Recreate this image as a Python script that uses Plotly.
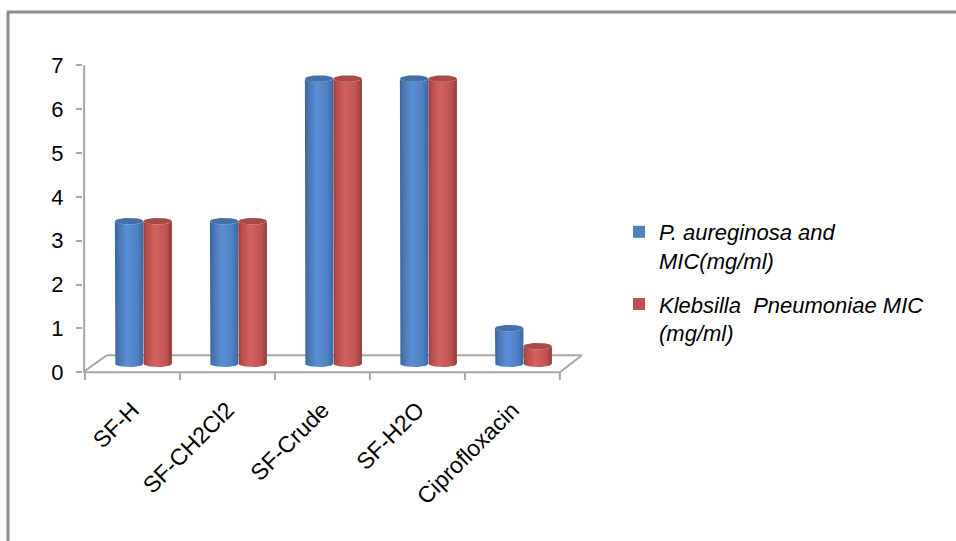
import numpy as np
import plotly.graph_objects as go

# ---------------- data ----------------
categories = ["SF-H", "SF-CH2Cl2", "SF-Crude", "SF-H2O", "Ciprofloxacin"]
series_names = ["<i>P. aureginosa and<br>MIC(mg/ml)</i>",
                "<i>Klebsilla  Pneumoniae MIC<br>(mg/ml)</i>"]
p_aeruginosa = [3.25, 3.25, 6.5, 6.5, 0.81]
k_pneumoniae = [3.25, 3.25, 6.5, 6.5, 0.40]
y_ticks = [0, 1, 2, 3, 4, 5, 6, 7]

# ---------------- geometry / style ----------------
W, H = 956, 541
ML, MR, MT, MB = 83, 372, 64, 160
PW, PH = W - ML - MR, H - MT - MB
PXU = 95.0        # px per category unit
PYU = 43.857      # px per value unit
x0r = -0.52
xr = [x0r, x0r + PW / PXU]
y0r = -0.2
yr = [y0r, y0r + PH / PYU]

depth_x = 22 / PXU      # full floor depth (x)
depth_y = 17 / PYU      # full floor depth (y)
mid_x, mid_y = depth_x / 2, depth_y / 2
half_w = 0.15
ell_k = 3.3 / PYU

grey = "#a6a6a6"
FONT = "Liberation Sans, Arial, sans-serif"

body_scales = [
    [[0, "#3a6196"], [0.12, "#4775b3"], [0.42, "#5b8fd6"], [0.8, "#4e7fc2"], [1, "#3b669e"]],
    [[0, "#963c3a"], [0.12, "#b84d4a"], [0.42, "#d3625f"], [0.8, "#c0524f"], [1, "#8f3a38"]],
]
top_colors = ["#4470a7", "#a94946"]
legend_colors = ["#4f81bd", "#c0504d"]

fig = go.Figure()

n = len(categories)
bounds = [i - 0.5 for i in range(n + 1)]
line_style = dict(color=grey, width=2)
shapes = []
shapes.append(dict(type="line", xref="x", yref="y", x0=bounds[0], y0=0, x1=bounds[-1], y1=0,
                   line=line_style, layer="below"))
shapes.append(dict(type="line", xref="x", yref="y", x0=bounds[0] + depth_x, y0=depth_y,
                   x1=bounds[-1] + depth_x, y1=depth_y, line=line_style, layer="below"))
shapes.append(dict(type="line", xref="x", yref="y", x0=bounds[0] - 0.02, y0=0,
                   x1=bounds[0] + depth_x, y1=depth_y, line=line_style, layer="below"))
shapes.append(dict(type="line", xref="x", yref="y", x0=bounds[-1], y0=0,
                   x1=bounds[-1] + depth_x, y1=depth_y, line=line_style, layer="below"))
for b in bounds:
    shapes.append(dict(type="line", xref="x", yref="y", x0=b, y0=0, x1=b, y1=-0.18,
                       line=line_style, layer="below"))
# y axis line
shapes.append(dict(type="line", xref="x", yref="y", x0=xr[0] + 0.012, y0=0,
                   x1=xr[0] + 0.012, y1=y_ticks[-1], line=line_style, layer="below"))


def px2paper_x(px):
    return (px - ML) / PW


def px2paper_y(py):
    return (H - MB - py) / PH


# outer frame (top and left edges)
shapes.append(dict(type="line", xref="paper", yref="paper",
                   x0=px2paper_x(7), y0=px2paper_y(12), x1=px2paper_x(960), y1=px2paper_y(12),
                   line=dict(color="#8c8c8c", width=3)))
shapes.append(dict(type="line", xref="paper", yref="paper",
                   x0=px2paper_x(8), y0=px2paper_y(12), x1=px2paper_x(8), y1=px2paper_y(545),
                   line=dict(color="#8c8c8c", width=3)))

# cylinders
t_half = np.linspace(0, np.pi, 25)
t_full = np.linspace(0, 2 * np.pi, 49)
series = [p_aeruginosa, k_pneumoniae]
for i in range(n):
    for s, vals in enumerate(series):
        v = vals[i]
        cx = i + mid_x + (s - 0.5) * 2 * half_w
        base = mid_y
        top = v + mid_y
        xs = ([cx - half_w, cx - half_w]
              + list(cx - half_w * np.cos(t_half))
              + [cx + half_w]
              + list(cx + half_w * np.cos(t_half)))
        ys = ([top, base]
              + list(base - ell_k * np.sin(t_half))
              + [top]
              + list(top - ell_k * np.sin(t_half)))
        fig.add_trace(go.Scatter(
            x=xs, y=ys, mode="lines", fill="toself", line=dict(width=0),
            fillgradient=dict(type="horizontal", colorscale=body_scales[s]),
            hoverinfo="skip", showlegend=False))
        fig.add_trace(go.Scatter(
            x=cx + half_w * np.cos(t_full), y=top + ell_k * np.sin(t_full),
            mode="lines", fill="toself", line=dict(width=0), fillcolor=top_colors[s],
            hoverinfo="skip", showlegend=False))

# legend entries
for s in range(2):
    fig.add_trace(go.Scatter(
        x=[None], y=[None], mode="markers", name=series_names[s],
        legendgroup="g%d" % s,
        marker=dict(symbol="square", size=12, color=legend_colors[s])))

fig.update_layout(
    width=W, height=H, autosize=False,
    margin=dict(l=ML, r=MR, t=MT, b=MB),
    paper_bgcolor="white", plot_bgcolor="white",
    font=dict(family=FONT, color="black"),
    shapes=shapes,
    showlegend=True,
    legend=dict(x=px2paper_x(619), xanchor="left", y=px2paper_y(211), yanchor="top",
                font=dict(family=FONT, size=22, color="black"),
                valign="top", tracegroupgap=12, bgcolor="rgba(0,0,0,0)"),
    xaxis=dict(range=xr, tickmode="array", tickvals=list(range(n)), ticktext=categories,
               tickangle=-45, ticks="", showline=False, showgrid=False, zeroline=False,
               ticklabelstandoff=10,
               tickfont=dict(family=FONT, size=23, color="black"), fixedrange=True),
    yaxis=dict(range=yr, tickmode="array", tickvals=y_ticks, ticktext=[str(t) for t in y_ticks],
               ticks="outside", ticklen=6, tickwidth=2, tickcolor=grey,
               showline=False, showgrid=False, zeroline=False,
               ticklabelstandoff=8,
               tickfont=dict(family=FONT, size=22, color="black"), fixedrange=True),
)

fig.write_html("out.html")
